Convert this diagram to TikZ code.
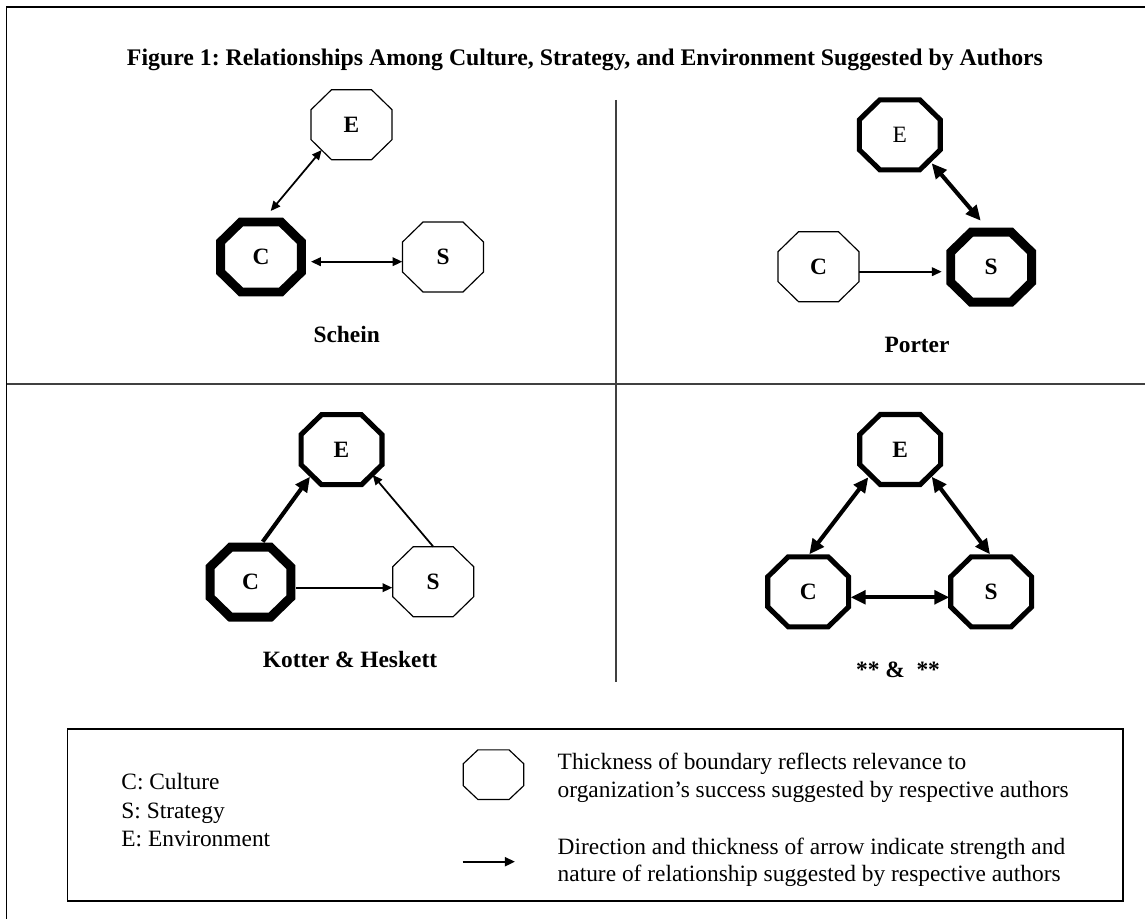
\documentclass[tikz,border=0pt,12pt]{standalone}
\usepackage{fontspec}
\setmainfont{Liberation Serif}
\usetikzlibrary{arrows.meta,calc}
\frenchspacing
\tikzset{
  lbl/.style={font=\bfseries, inner sep=0pt},
  txt/.style={anchor=base west, inner sep=0pt},
  oct/.style={minimum width=41.5pt, minimum height=35.9pt, inner sep=0pt, outer sep=0pt, font=\bfseries},
  octsmall/.style={minimum width=31.1pt, minimum height=25.5pt, inner sep=0pt, outer sep=0pt},
  thinarr/.style={line width=0.9pt, >={Triangle[length=5pt,width=4.4pt]}},
  thickarr/.style={line width=2.1pt, >={Triangle[length=7.7pt,width=7pt]}},
  legarr/.style={line width=1.1pt, >={Triangle[length=5.2pt,width=4.6pt]}},
  frame/.style={line width=0.7pt, black},
  divider/.style={line width=0.8pt, black!75},
}
% #1 node name, #2 horizontal cut, #3 vertical cut, #4 line width
\newcommand\octline[4]{%
  \draw[line width=#4, line join=miter]
    ($(#1.north west)+(#2,0)$) -- ($(#1.north east)+(-#2,0)$) --
    ($(#1.north east)+(0,#3)$) -- ($(#1.south east)+(0,-#3)$) --
    ($(#1.south east)+(-#2,0)$) -- ($(#1.south west)+(#2,0)$) --
    ($(#1.south west)+(0,-#3)$) -- ($(#1.north west)+(0,#3)$) -- cycle;}
\begin{document}
\begin{tikzpicture}[x=0.5128pt,y=-0.5128pt]
\useasboundingbox (0,0) rectangle (1145,919);
% outer frame and dividers
\draw[frame] (6.7,919) -- (6.7,7) -- (1145,7);
\node[lbl,font=\fontsize{12.2}{14}\selectfont\bfseries] (title) at (585,60) {Figure 1: Relationships Among Culture, Strategy, and Environment Suggested by Authors};
\draw[divider] (616,100) -- (616,682);
\draw[divider] (6.7,384) -- (1145,384);

% Schein
\node[oct] (sE) at (351.5,124.7) {E};
\node[oct] (sC) at (261,257) {C};
\node[oct] (sS) at (443,257) {S};
\octline{sE}{20.5}{20}{0.6pt}
\octline{sC}{20.5}{20}{4.6pt}
\octline{sS}{20.5}{20}{0.6pt}
\draw[thinarr,<->] ($(sC)+(9.7,-46)$) -- ($(sE)+(-29.8,25.3)$);
\draw[thinarr,<->] ($(sC)+(50,4.7)$) -- ($(sS)+(-40.7,4.7)$);
\node[lbl] (schein) at (346.7,334) {Schein};

% Porter
\node[oct] (pE) at (899.8,134.8) {\mdseries E};
\node[oct] (pC) at (818.5,266.7) {C};
\node[oct] (pS) at (991.2,267.2) {S};
\octline{pE}{20.5}{20}{2.6pt}
\octline{pC}{20.5}{20}{0.6pt}
\octline{pS}{20.5}{20}{4.6pt}
\draw[thinarr,->] ($(pC)+(40.8,5)$) -- ($(pS)+(-49.5,4.5)$);
\draw[thickarr,<->] ($(pE)+(31.9,28.5)$) -- ($(pS)+(-10.5,-46.5)$);
\node[lbl] (porter) at (917,345) {Porter};

% Kotter & Heskett
\node[oct] (kE) at (341.5,449.7) {E};
\node[oct] (kC) at (250.5,582.2) {C};
\node[oct] (kS) at (433.2,581.7) {S};
\octline{kE}{20.5}{20}{2.6pt}
\octline{kC}{20.5}{20}{4.6pt}
\octline{kS}{20.5}{20}{0.6pt}
\draw[thickarr,->] ($(kC)+(12.2,-40.5)$) -- ($(kE)+(-31.5,27)$);
\draw[thinarr,->] ($(kS)+(0.1,-35)$) -- ($(kE)+(31.2,25.3)$);
\draw[thinarr,->] ($(kC)+(45.5,5.5)$) -- ($(kS)+(-40.9,6)$);
\node[lbl] (kotter) at (350,659) {Kotter \& Heskett};

% ** & **
\node[oct] (bE) at (900.2,449.5) {E};
\node[oct] (bC) at (808.2,591.8) {C};
\node[oct] (bS) at (991.2,591.8) {S};
\octline{bE}{20.5}{20}{2.6pt}
\octline{bC}{20.5}{20}{2.6pt}
\octline{bS}{20.5}{20}{2.6pt}
\draw[thickarr,<->] ($(bC)+(1.1,-37.5)$) -- ($(bE)+(-31.9,27.8)$);
\draw[thickarr,<->] ($(bE)+(31.5,27.2)$) -- ($(bS)+(-1.2,-37.5)$);
\draw[thickarr,<->] ($(bC)+(42.5,5.5)$) -- ($(bS)+(-41.9,5.5)$);
\node[lbl] (authors) at (898,670) {** \&\ \ **};

% legend
\draw[frame] (67.7,729) rectangle (1123,901);
\node[txt] (lc) at (121,789) {C: Culture};
\node[txt] (ls) at (121,818) {S: Strategy};
\node[txt] (le) at (121,846) {E: Environment};
\node[octsmall] (lo) at (493.5,774.7) {};
\octline{lo}{14.8}{14}{0.6pt}
\coordinate (la1) at (462.7,861.7);
\coordinate (la2) at (515,861.7);
\draw[legarr,->] (la1) -- (la2);
\node[txt] (t1) at (557.3,769.3) {Thickness of boundary reflects relevance to};
\node[txt] (t2) at (557.3,797.3) {organization’s success suggested by respective authors};
\node[txt] (t3) at (557.3,854) {Direction and thickness of arrow indicate strength and};
\node[txt] (t4) at (557.3,881.7) {nature of relationship suggested by respective authors};
\end{tikzpicture}
\end{document}
